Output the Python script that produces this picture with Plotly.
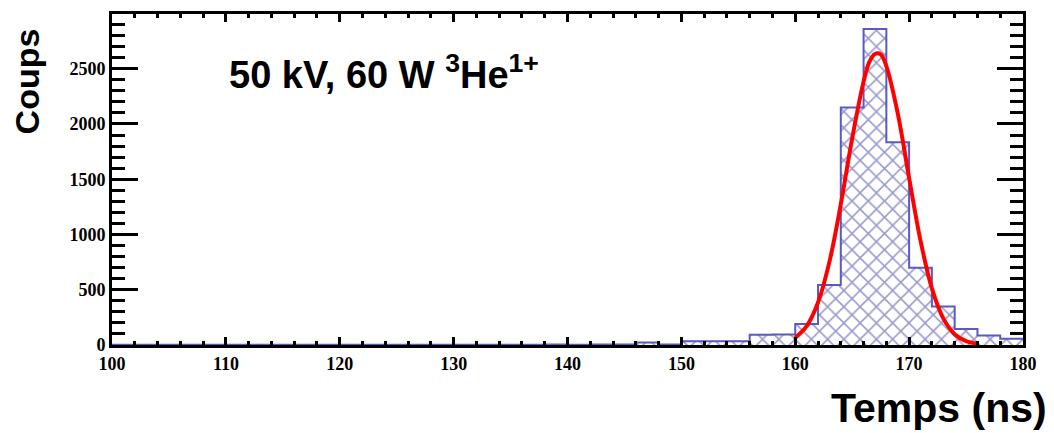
import plotly.graph_objects as go

# ---- data ----
bin_edges_start = [100, 102, 104, 106, 108, 110, 112, 114, 116, 118,
                   120, 122, 124, 126, 128, 130, 132, 134, 136, 138,
                   140, 142, 144, 146, 148, 150, 152, 154, 156, 158,
                   160, 162, 164, 166, 168, 170, 172, 174, 176, 178]
bin_width = 2
counts = [3, 2, 3, 2, 3, 2, 3, 2, 3, 2,
          3, 2, 3, 2, 3, 3, 2, 3, 3, 4,
          3, 4, 5, 22, 5, 33, 35, 33, 92, 94,
          190, 543, 2148, 2859, 1834, 698, 348, 145, 85, 56]

fit_x = [160, 161, 162, 163, 164, 165, 166, 166.5, 167, 167.5, 168,
         169, 170, 171, 172, 173, 174, 175, 176]
fit_y = [66, 171, 385, 752, 1274, 1870, 2383, 2560, 2633, 2630, 2523,
         2096, 1511, 944, 512, 241, 98, 35, 11]

x_ticks = [100, 110, 120, 130, 140, 150, 160, 170, 180]
y_ticks = [0, 500, 1000, 1500, 2000, 2500]

annot_text = "50 kV, 60 W <sup>3</sup>He<sup>1+</sup>"
x_title = "Temps (ns)"
y_title = "Coups"

blue = "#5a5ac0"
hatch = "#3434a0"

centers = [s + bin_width / 2 for s in bin_edges_start]
step_x = bin_edges_start + [bin_edges_start[-1] + bin_width]
step_y = counts + [counts[-1]]

fig = go.Figure()
fig.add_trace(go.Bar(
    x=centers, y=counts, width=bin_width,
    marker=dict(color="white", line=dict(width=0),
                pattern=dict(shape="x", fgcolor=hatch, bgcolor="white",
                             size=11.5, solidity=0.25)),
    showlegend=False, hoverinfo="skip"))
fig.add_trace(go.Scatter(
    x=step_x, y=step_y, mode="lines", line=dict(color=blue, width=2, shape="hv"),
    showlegend=False, hoverinfo="skip"))
fig.add_trace(go.Scatter(
    x=fit_x, y=fit_y, mode="lines", line=dict(color="#ff0000", width=4, shape="spline"),
    showlegend=False, hoverinfo="skip"))

tickfont = dict(family="Liberation Serif", size=18, color="black", weight="bold")

fig.update_layout(
    width=1054, height=433,
    margin=dict(l=112, r=31, t=11, b=88),
    paper_bgcolor="white", plot_bgcolor="white",
    bargap=0,
    xaxis=dict(range=[100, 180], tickvals=x_ticks, ticks="inside", ticklen=8, tickwidth=2.5,
               minor=dict(ticks="inside", ticklen=4, tickwidth=2.5, dtick=2, showgrid=False),
               showline=True, linewidth=3, linecolor="black", mirror="allticks",
               showgrid=False, zeroline=False, tickfont=tickfont, tickcolor="black"),
    yaxis=dict(range=[0, 2995], tickvals=y_ticks, ticks="inside", ticklen=26, tickwidth=2.5,
               minor=dict(ticks="inside", ticklen=13, tickwidth=2.5, dtick=100, showgrid=False),
               showline=True, linewidth=3, linecolor="black", mirror="allticks",
               showgrid=False, zeroline=False, tickfont=tickfont, tickcolor="black"),
    annotations=[
        dict(text=annot_text, xref="paper", yref="paper", x=(227 - 112) / 911, y=(345 - 70) / 334,
             xanchor="left", yanchor="middle", showarrow=False,
             font=dict(family="Liberation Sans", size=38, color="black", weight="bold")),
        dict(text=x_title, xref="paper", yref="paper", x=(1049 - 112) / 911, y=(345 - 409) / 334,
             xanchor="right", yanchor="middle", showarrow=False,
             font=dict(family="Liberation Sans", size=41, color="black", weight="bold")),
        dict(text=y_title, xref="paper", yref="paper", x=(27 - 112) / 911, y=(345 - 79) / 334,
             xanchor="center", yanchor="middle", showarrow=False, textangle=-90,
             font=dict(family="Liberation Sans", size=34, color="black", weight="bold")),
    ],
)

fig.write_html("out.html", config={"displayModeBar": False},
               post_script="document.body.style.margin='0';document.body.style.overflow='hidden';")
